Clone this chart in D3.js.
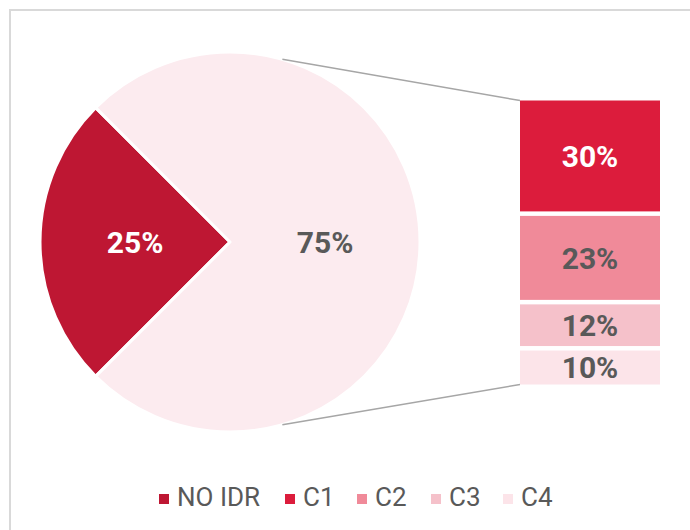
<!DOCTYPE html>
<html>
<head>
<meta charset="utf-8">
<script src="https://cdn.jsdelivr.net/npm/d3@7"></script>
<style>
  body { margin: 0; background: #fff; }
  svg { display: block; font-family: Roboto, "Noto Sans", sans-serif; }
</style>
</head>
<body>
<div id="chart"></div>
<script>
// pie: NO IDR vs the rest
var pieLabels = ["NO IDR", "Other"];
var pieValues = [25, 75];

// bar of pie: split of the 75%
var barLabels = ["C1", "C2", "C3", "C4"];
var barValues = [30, 23, 12, 10];

var legendLabels = ["NO IDR", "C1", "C2", "C3", "C4"];
var legendColors = ["#BE1733", "#DC1C3C", "#F08A99", "#F5C1CA", "#FCE4E9"];

var width = 690, height = 530;

var svg = d3.select("#chart").append("svg")
    .attr("width", width)
    .attr("height", height);

// frame (only top + left show in the crop)
svg.append("path")
    .attr("d", "M10,530 L10,10 L690,10")
    .attr("fill", "none")
    .attr("stroke", "#D9D9D9")
    .attr("stroke-width", 2);

// ************** pie *****************
var cx = 230, cy = 242, r = 190;

var pie = d3.pie()
    .sort(null)
    .startAngle(-3 * Math.PI / 4)
    .endAngle(5 * Math.PI / 4)(pieValues);

var arc = d3.arc().innerRadius(0).outerRadius(r);

var pieColors = ["#BE1733", "#FCEBEF"];

var gPie = svg.append("g")
    .attr("transform", "translate(" + cx + "," + cy + ")");

gPie.selectAll("path")
    .data(pie)
    .enter().append("path")
    .attr("d", arc)
    .attr("fill", function(d, i) { return pieColors[i]; })
    .attr("stroke", "#fff")
    .attr("stroke-width", 3)
    .attr("stroke-linejoin", "round");

gPie.selectAll("text")
    .data(pie)
    .enter().append("text")
    .attr("transform", function(d) {
        var c = arc.centroid(d);
        return "translate(" + c[0] + "," + c[1] + ")";
    })
    .attr("text-anchor", "middle")
    .attr("dy", "0.36em")
    .attr("font-size", 30)
    .attr("font-weight", "bold")
    .attr("fill", function(d, i) { return i == 0 ? "#fff" : "#595959"; })
    .text(function(d) { return d.data + "%"; });

// ************** bar *****************
var barX = 520, barW = 140, gap = 4.5;

var y = d3.scaleLinear()
    .domain([0, d3.sum(barValues)])
    .range([100.5, 384.5 + gap]);

var stack = [];
var acc = 0;
barValues.forEach(function(v, i) {
    stack.push({ label: barLabels[i], value: v, y0: acc, y1: acc + v, color: legendColors[i + 1] });
    acc += v;
});

// connector lines from pie to bar
var a1 = 16 * Math.PI / 180, a2 = 164 * Math.PI / 180;
var lines = [
    [cx + r * Math.sin(a1), cy - r * Math.cos(a1), barX, y(0)],
    [cx + r * Math.sin(a2), cy - r * Math.cos(a2), barX, y(acc) - gap]
];
svg.selectAll("line.conn")
    .data(lines)
    .enter().append("line")
    .attr("class", "conn")
    .attr("x1", function(d) { return d[0]; })
    .attr("y1", function(d) { return d[1]; })
    .attr("x2", function(d) { return d[2]; })
    .attr("y2", function(d) { return d[3]; })
    .attr("stroke", "#A6A6A6")
    .attr("stroke-width", 1.5);

var bars = svg.selectAll("g.bar")
    .data(stack)
    .enter().append("g")
    .attr("class", "bar");

bars.append("rect")
    .attr("x", barX)
    .attr("y", function(d) { return y(d.y0); })
    .attr("width", barW)
    .attr("height", function(d) { return y(d.y1) - y(d.y0) - gap; })
    .attr("fill", function(d) { return d.color; });

bars.append("text")
    .attr("x", barX + barW / 2)
    .attr("y", function(d) { return (y(d.y0) + y(d.y1) - gap) / 2; })
    .attr("text-anchor", "middle")
    .attr("dy", "0.36em")
    .attr("font-size", 30)
    .attr("font-weight", "bold")
    .attr("fill", function(d, i) { return i == 0 ? "#fff" : "#595959"; })
    .text(function(d) { return d.value + "%"; });

// ************** legend *****************
var legendX = [159, 285, 357, 431, 503];

var legend = svg.selectAll("g.legend")
    .data(legendLabels)
    .enter().append("g")
    .attr("class", "legend")
    .attr("transform", function(d, i) { return "translate(" + legendX[i] + ",494)"; });

legend.append("rect")
    .attr("width", 10)
    .attr("height", 10)
    .attr("fill", function(d, i) { return legendColors[i]; });

legend.append("text")
    .attr("x", 18)
    .attr("y", 12)
    .attr("font-size", 26)
    .attr("fill", "#595959")
    .text(function(d) { return d; });
</script>
</body>
</html>
